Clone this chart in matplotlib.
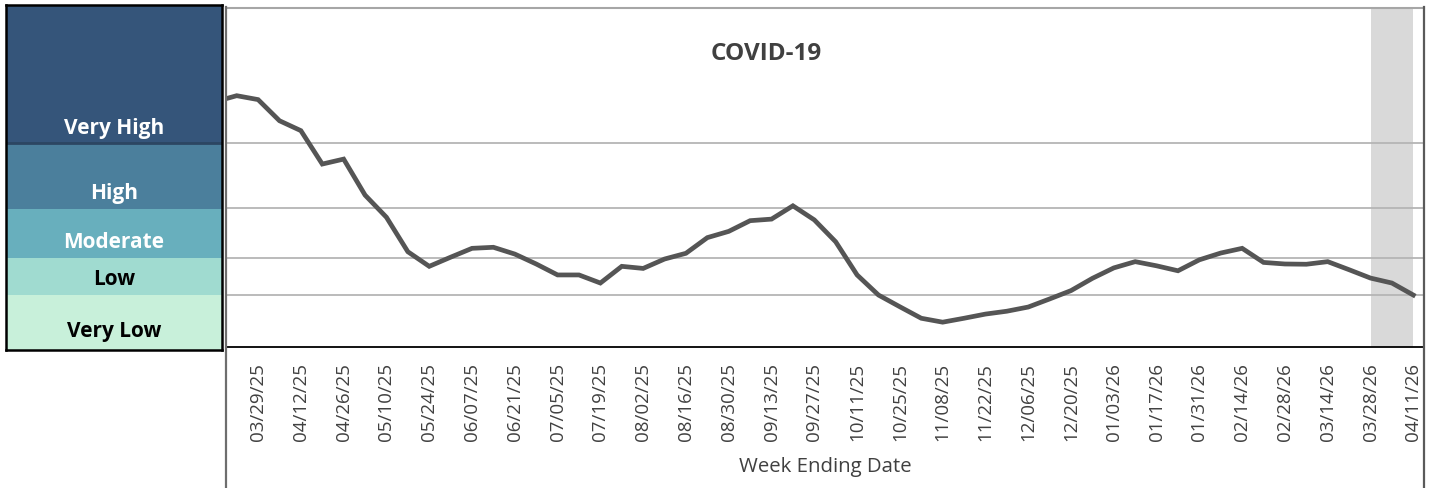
import numpy as np
import matplotlib
matplotlib.use("Agg")
import matplotlib.pyplot as plt
import pandas as pd
from matplotlib.lines import Line2D

plt.rcParams['font.family'] = ['Open Sans', 'DejaVu Sans']

# weekly wastewater activity level, week ending 03/15/25 .. 04/11/26
week_ending = pd.date_range("2025-03-15", periods=57, freq="7D")
activity = [9.39, 9.62, 9.47, 8.66, 8.28, 7.00, 7.19, 5.81, 4.96, 3.64,
            3.08, 3.43, 3.77, 3.81, 3.55, 3.17, 2.75, 2.75, 2.44, 3.08,
            3.00, 3.36, 3.58, 4.18, 4.42, 4.83, 4.89, 5.40, 4.86, 4.02,
            2.75, 1.98, 1.53, 1.09, 0.94, 1.09, 1.25, 1.36, 1.52, 1.83,
            2.15, 2.62, 3.02, 3.26, 3.10, 2.91, 3.33, 3.59, 3.77, 3.23,
            3.17, 3.16, 3.26, 2.95, 2.63, 2.44, 1.98]

# level thresholds and legend
level_names = ["Very Low", "Low", "Moderate", "High", "Very High"]
level_bounds = [0, 2.0, 3.4, 5.3, 7.8, 13.1]
level_colors = ["#c8f0da", "#a0dbd0", "#68afbd", "#4b7f9c", "#35557a"]
level_text = ["black", "black", "white", "white", "white"]

# provisional weeks (shaded)
shade_start, shade_end = 54, 56

W, H = 1430, 489
fig = plt.figure(figsize=(W / 100, H / 100), dpi=100)

# ---- main line chart ----
ax = fig.add_axes([226 / W, (H - 347.7) / H, 1198 / W, 339.2 / H])
x = np.arange(len(activity))
ax.axvspan(shade_start, shade_end, color="#d9d9d9", lw=0, zorder=0)
for b in level_bounds[1:-1]:
    ax.axhline(b, color="#b5b5b5", lw=1.3, zorder=1)
ax.plot(x, activity, color="#555555", lw=3.4, solid_joinstyle="miter", zorder=3)
ax.set_xlim(0.5, 56.5)
ax.set_ylim(0, 13)
ax.set_yticks([])

tick_idx = x[2::2]
ax.set_xticks(tick_idx)
ax.set_xticklabels([week_ending[i].strftime("%m/%d/%y") for i in tick_idx],
                   rotation=90, fontsize=13.5, color="#404040")
ax.tick_params(axis="x", length=0, pad=11)

ax.set_xlabel("Week Ending Date", fontsize=14.7, color="#404040", va="center")
ax.xaxis.set_label_coords(0.5, -0.352)

for s in ["left", "right"]:
    ax.spines[s].set_visible(False)
ax.spines["top"].set_color("#a6a6a6")
ax.spines["top"].set_linewidth(1.5)
ax.spines["bottom"].set_color("black")
ax.spines["bottom"].set_linewidth(1.3)

fig.text(766 / W, (H - 54) / H, "COVID-19", fontsize=17.5, fontweight="bold",
         color="#404040", ha="center", va="center")

# outer chart frame sides
fig.add_artist(Line2D([225.5 / W, 225.5 / W], [0, (H - 8) / H], color="#6e6e6e", lw=1.6))
fig.add_artist(Line2D([1424.3 / W, 1424.3 / W], [0, (H - 8) / H], color="#5a5a5a", lw=1.6))

# ---- level legend panel ----
lp = fig.add_axes([6 / W, (H - 350.5) / H, 216 / W, 344.5 / H])
lp.set_xlim(0, 1)
lp.set_ylim(-0.1, 13.1)
for i, name in enumerate(level_names):
    lo = level_bounds[i] if i > 0 else -0.1
    lp.axhspan(lo, level_bounds[i + 1], color=level_colors[i], lw=0)
    lp.text(0.5, level_bounds[i] + 0.62, name, ha="center", va="center",
            fontsize=15, fontweight="bold", color=level_text[i])
lp.axhline(level_bounds[4], color="#2c4662", lw=2)
lp.set_xticks([])
lp.set_yticks([])
for s in lp.spines.values():
    s.set_color("black")
    s.set_linewidth(1.8)

fig.savefig("out.png", dpi=100)
